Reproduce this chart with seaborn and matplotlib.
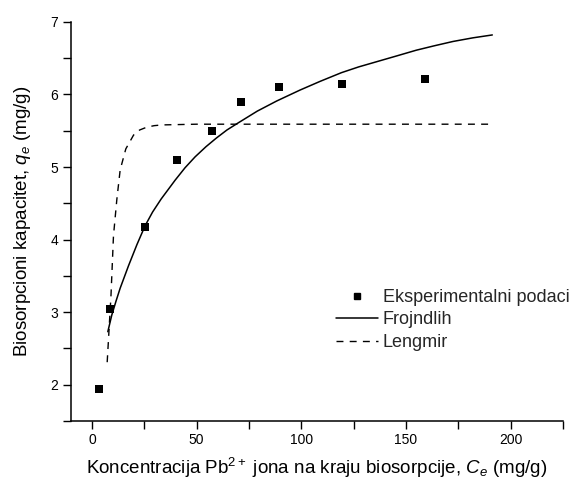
import matplotlib
matplotlib.use("Agg")
import matplotlib.pyplot as plt
import seaborn as sns
import pandas as pd
from matplotlib.lines import Line2D
from matplotlib.ticker import MultipleLocator

# Experimental data (Ce, qe)
exp_ce = [3.5, 8.6, 25.4, 40.6, 57.3, 71.1, 89.6, 119.3, 159.3]
exp_qe = [1.94, 3.05, 4.18, 5.10, 5.50, 5.90, 6.10, 6.14, 6.21]

# Freundlich curve
frojndlih_ce = [7.6, 9.5, 11.5, 13.5, 17.5, 21.5, 25.4, 29.0, 33.1, 39.8, 44.5,
                49.3, 54.5, 59.5, 64.5, 70.0, 79.0, 88.3, 99.4, 109.0, 119.2,
                127.5, 135.9, 145.5, 155.0, 163.5, 172.5, 182.0, 191.3]
frojndlih_qe = [2.73, 2.96, 3.15, 3.33, 3.64, 3.93, 4.19, 4.38, 4.56, 4.82, 4.99,
                5.14, 5.28, 5.40, 5.51, 5.61, 5.77, 5.91, 6.06, 6.18, 6.30,
                6.38, 6.45, 6.53, 6.61, 6.67, 6.73, 6.78, 6.82]

# Langmuir curve
lengmir_ce = [7.3, 9.1, 10.3, 11.9, 13.5, 16.2, 19.9, 22.8, 26.3, 29.8, 33.5,
              50.0, 100.0, 150.0, 191.4]
lengmir_qe = [2.31, 3.22, 4.05, 4.55, 4.96, 5.25, 5.44, 5.51, 5.55, 5.57, 5.58,
              5.59, 5.59, 5.59, 5.59]

sns.set_theme(style="ticks")
plt.rcParams["font.family"] = ["Liberation Sans", "DejaVu Sans"]
plt.rcParams["mathtext.fontset"] = "custom"
plt.rcParams["mathtext.rm"] = "Liberation Sans"
plt.rcParams["mathtext.it"] = "Liberation Sans:italic"

fig = plt.figure(figsize=(5.78, 4.82), dpi=100)
ax = fig.add_axes([0.1228, 0.1266, 0.851, 0.828])

df_exp = pd.DataFrame({"ce": exp_ce, "qe": exp_qe})
df_f = pd.DataFrame({"ce": frojndlih_ce, "qe": frojndlih_qe})
df_l = pd.DataFrame({"ce": lengmir_ce, "qe": lengmir_qe})

sns.lineplot(data=df_f, x="ce", y="qe", ax=ax, color="black", linewidth=1.1,
             sort=False, estimator=None)
sns.lineplot(data=df_l, x="ce", y="qe", ax=ax, color="black", linewidth=1.0,
             sort=False, estimator=None)
ax.lines[-1].set_dashes([5, 4.5])
sns.scatterplot(data=df_exp, x="ce", y="qe", ax=ax, marker="s", color="black",
                s=30, edgecolor="black", linewidth=0, zorder=5)

ax.set_xlim(-10, 225)
ax.set_ylim(1.5, 7)
ax.xaxis.set_major_locator(MultipleLocator(50))
ax.xaxis.set_minor_locator(MultipleLocator(25))
ax.yaxis.set_major_locator(MultipleLocator(1))
ax.yaxis.set_minor_locator(MultipleLocator(0.5))
ax.set_xticks([0, 50, 100, 150, 200])
ax.tick_params(which="major", direction="out", length=6, width=1.0, pad=3,
               labelsize=10, color="black", labelcolor="black")
ax.tick_params(which="minor", direction="out", length=6, width=1.0,
               color="black")
for side in ["top", "right"]:
    ax.spines[side].set_visible(False)
for side in ["left", "bottom"]:
    ax.spines[side].set_linewidth(1.1)
    ax.spines[side].set_color("black")

ax.set_xlabel("Koncentracija Pb$^{2+}$ jona na kraju biosorpcije, $C_e$ (mg/g)",
              fontsize=13.5, color="black", labelpad=6)
ax.set_ylabel("Biosorpcioni kapacitet, $q_e$ (mg/g)", fontsize=13.5,
              color="black", labelpad=13)

handles = [
    Line2D([], [], marker="s", color="black", linestyle="none", markersize=5),
    Line2D([], [], color="black", linewidth=1.1),
    Line2D([], [], color="black", linewidth=1.0, dashes=[5, 4.5]),
]
labels = ["Eksperimentalni podaci", "Frojndlih", "Lengmir"]
ax.legend(handles, labels, loc="upper left", bbox_to_anchor=(336 / 578, 1 - 289 / 482),
          bbox_transform=fig.transFigure, frameon=False, fontsize=13,
          handlelength=2.3, handletextpad=0.3, labelspacing=0.3,
          borderpad=0, borderaxespad=0)

plt.savefig("out.png", dpi=100)
